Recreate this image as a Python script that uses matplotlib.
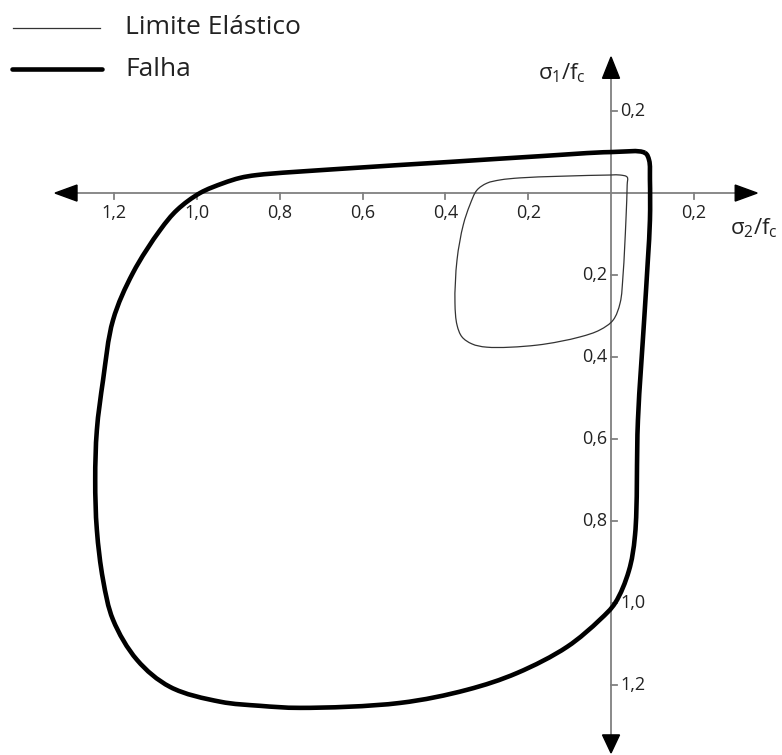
import numpy as np
import matplotlib
matplotlib.use("Agg")
import matplotlib.pyplot as plt
from matplotlib.path import Path
from matplotlib.patches import PathPatch, Polygon

plt.rcParams['font.family'] = ['Open Sans', 'DejaVu Sans']
plt.rcParams['mathtext.fontset'] = 'custom'
plt.rcParams['mathtext.rm'] = 'Open Sans'
plt.rcParams['mathtext.it'] = 'Open Sans'

# Failure envelope (σ2/fc, σ1/fc), compression negative
falha_s2 = [0.082, 0.000, -0.171, -0.389, -0.655, -0.855, -0.896, -0.937, -0.993,
            -1.048, -1.089, -1.155, -1.203, -1.227, -1.242, -1.246, -1.242,
            -1.227, -1.203, -1.145, -1.065, -0.944, -0.848, -0.751, -0.510, -0.348,
            -0.227, -0.106, -0.027, 0.010, 0.043, 0.058, 0.065, 0.080, 0.089,
            0.094, 0.094, 0.092]
falha_s1 = [0.098, 0.100, 0.090, 0.076, 0.059, 0.044, 0.037, 0.024, 0.000,
            -0.041, -0.090, -0.195, -0.310, -0.456, -0.578, -0.700, -0.822,
            -0.944, -1.041, -1.139, -1.205, -1.241, -1.251, -1.256, -1.244, -1.212,
            -1.171, -1.107, -1.041, -1.000, -0.922, -0.834, -0.554, -0.310,
            -0.163, -0.066, 0.032, 0.080]

# Elastic limit envelope
elastico_s2 = [0.039, 0.022, -0.002, -0.123, -0.220, -0.268, -0.300, -0.324, -0.341,
               -0.357, -0.372, -0.377, -0.372, -0.360, -0.336, -0.300, -0.179, -0.075,
               -0.027, 0.005, 0.022, 0.029, 0.036, 0.039]
elastico_s1 = [0.039, 0.044, 0.044, 0.041, 0.037, 0.032, 0.024, 0.007, -0.029,
               -0.078, -0.163, -0.268, -0.322, -0.351, -0.368, -0.376, -0.371, -0.351,
               -0.334, -0.310, -0.268, -0.200, -0.066, 0.020]

x_ticks = [-1.2, -1.0, -0.8, -0.6, -0.4, -0.2, 0.2]
x_tick_labels = ['1,2', '1,0', '0,8', '0,6', '0,4', '0,2', '0,2']
y_ticks = [0.2, -0.2, -0.4, -0.6, -0.8, -1.0, -1.2]
y_tick_labels = ['0,2', '0,2', '0,4', '0,6', '0,8', '1,0', '1,2']

W, H = 782, 755
fig = plt.figure(figsize=(W / 100, H / 100), dpi=100)
ax = fig.add_axes([0, 0, 1, 1])
xmin, xmax = -1.476, 0.413
ymin, ymax = -1.371, 0.471
ax.set_xlim(xmin, xmax)
ax.set_ylim(ymin, ymax)
ax.axis('off')

px_x = (xmax - xmin) / W   # data units per pixel, horizontal
px_y = (ymax - ymin) / H   # data units per pixel, vertical


def closed_smooth_path(xs, ys, alpha=0.5):
    """Closed centripetal Catmull-Rom curve as cubic Bezier segments."""
    p = np.column_stack([xs, ys])
    n = len(p)
    scale = np.array([1 / px_x, 1 / px_y])   # measure spacing on screen

    def knot(a, b):
        return max(np.linalg.norm((b - a) * scale) ** alpha, 1e-6)

    verts = [p[0]]
    codes = [Path.MOVETO]
    for i in range(n):
        p0, p1, p2, p3 = p[i - 1], p[i], p[(i + 1) % n], p[(i + 2) % n]
        d0, d1, d2 = knot(p0, p1), knot(p1, p2), knot(p2, p3)
        m1 = ((p1 - p0) / d0 - (p2 - p0) / (d0 + d1) + (p2 - p1) / d1) * d1
        m2 = ((p2 - p1) / d1 - (p3 - p1) / (d1 + d2) + (p3 - p2) / d2) * d1
        verts += [p1 + m1 / 3.0, p2 - m2 / 3.0, p2]
        codes += [Path.CURVE4] * 3
    return Path(np.array(verts), codes)


axis_col = '#808080'
# horizontal axis with arrows
ax.plot([-1.290, 0.300], [0, 0], color=axis_col, lw=1.3, zorder=1)
ax.add_patch(Polygon([[-1.343, 0], [-1.290, 8 * px_y], [-1.290, -8 * px_y]],
                     closed=True, color='black', zorder=3))
ax.add_patch(Polygon([[0.353, 0], [0.300, 8 * px_y], [0.300, -8 * px_y]],
                     closed=True, color='black', zorder=3))
# vertical axis with arrows
ax.plot([0, 0], [-1.322, 0.280], color=axis_col, lw=1.3, zorder=1)
ax.add_patch(Polygon([[0, 0.332], [-8.5 * px_x, 0.280], [8.5 * px_x, 0.280]],
                     closed=True, color='black', zorder=3))
ax.add_patch(Polygon([[0, -1.366], [-8.5 * px_x, -1.322], [8.5 * px_x, -1.322]],
                     closed=True, color='black', zorder=3))

# ticks and tick labels
for xv, lab in zip(x_ticks, x_tick_labels):
    ax.plot([xv, xv], [0, -6 * px_y], color=axis_col, lw=1.3, zorder=1)
    ax.text(xv, -20 * px_y, lab, ha='center', va='center', fontsize=13, color='#222222')
for yv, lab in zip(y_ticks, y_tick_labels):
    ax.plot([0, 6 * px_x], [yv, yv], color=axis_col, lw=1.3, zorder=1)
    if yv > 0 or yv <= -1.0:
        ax.text(9 * px_x, yv, lab, ha='left', va='center', fontsize=13, color='#222222')
    else:
        ax.text(-4 * px_x, yv, lab, ha='right', va='center', fontsize=13, color='#222222')

# axis titles
ax.text(-0.118, 0.293, r'$σ_1/f_c$', ha='center', va='center', fontsize=16, color='#222222')
ax.text(0.345, -0.085, r'$σ_2/f_c$', ha='center', va='center', fontsize=16, color='#222222')

# envelopes
ax.add_patch(PathPatch(closed_smooth_path(falha_s2, falha_s1), fill=False,
                       edgecolor='black', lw=3.3, zorder=4, joinstyle='round'))
ax.add_patch(PathPatch(closed_smooth_path(elastico_s2, elastico_s1), fill=False,
                       edgecolor='#333333', lw=0.9, zorder=4))

# key
ax.plot([13 / W, 100 / W], [1 - 28 / H, 1 - 28 / H], transform=ax.transAxes,
        color='#333333', lw=0.9)
ax.plot([12 / W, 102 / W], [1 - 69 / H, 1 - 69 / H], transform=ax.transAxes,
        color='black', lw=3.3, solid_capstyle='round')
ax.text(125 / W, 1 - 28 / H, 'Limite Elástico', transform=ax.transAxes,
        ha='left', va='center', fontsize=19, color='#222222')
ax.text(125 / W, 1 - 69 / H, 'Falha', transform=ax.transAxes,
        ha='left', va='center', fontsize=19, color='#222222')

fig.savefig('out.png', dpi=100)
